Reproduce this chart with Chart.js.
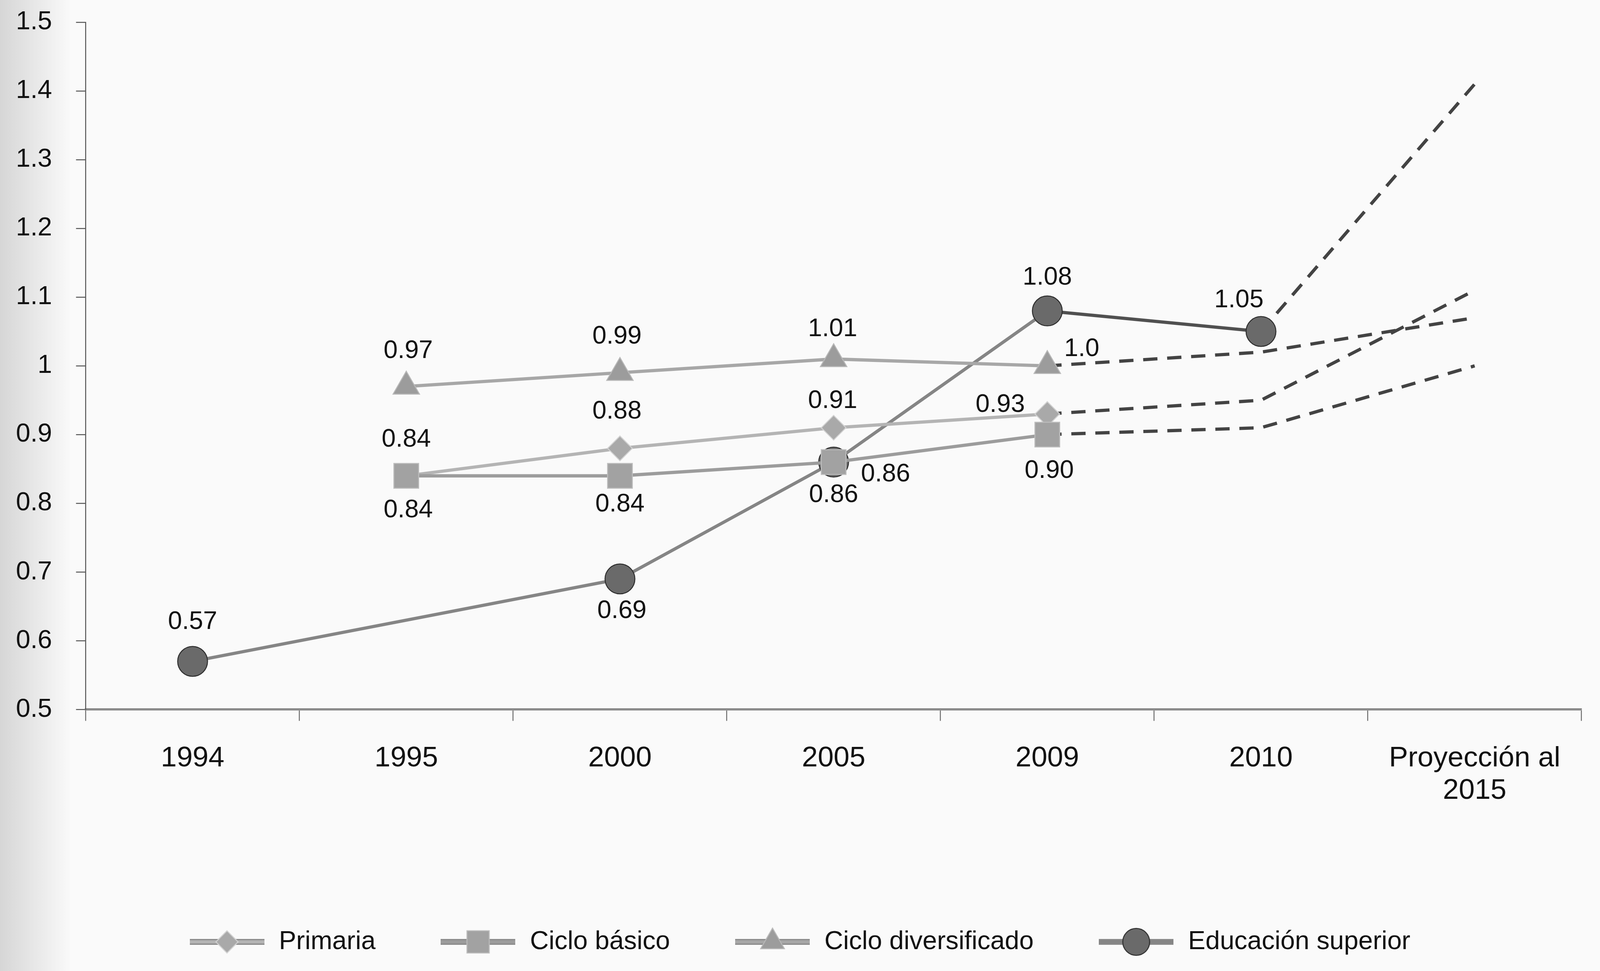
<!DOCTYPE html>
<html>
<head>
<meta charset="utf-8">
<script src="https://cdn.jsdelivr.net/npm/chart.js@4.4.1/dist/chart.umd.min.js"></script>
<style>
html,body{margin:0;padding:0;background:#fafafa;overflow:hidden;}
#wrap{width:100vw;height:100vh;position:relative;}
canvas{display:block;}
</style>
</head>
<body>
<div id="wrap"><canvas id="c"></canvas></div>
<script>
// ---------- data ----------
const categories = ['1994', '1995', '2000', '2005', '2009', '2010', ['Proyección al', '2015']];
const seriesNames = ['Primaria', 'Ciclo básico', 'Ciclo diversificado', 'Educación superior'];

const primaria           = [null, 0.84, 0.88, 0.91, 0.93, null, null];
const cicloBasico        = [null, 0.84, 0.84, 0.86, 0.90, null, null];
const cicloDiversificado = [null, 0.97, 0.99, 1.01, 1.00, null, null];
const educacionSuperior  = [0.57, null, 0.69, 0.86, 1.08, 1.05, null];

const primariaProyeccion      = [null, null, null, null, 0.93, 0.95, 1.11];
const basicoProyeccion        = [null, null, null, null, 0.90, 0.91, 1.00];
const diversificadoProyeccion = [null, null, null, null, 1.00, 1.02, 1.07];
const superiorProyeccion      = [null, null, null, null, null, 1.05, 1.41];

const primariaLabels      = [null, '0.84', '0.88', '0.91', '0.93', null, null];
const basicoLabels        = [null, '0.84', '0.84', '0.86', '0.90', null, null];
const diversificadoLabels = [null, '0.97', '0.99', '1.01', '1.0', null, null];
const superiorLabels      = ['0.57', null, '0.69', '0.86', '1.08', '1.05', null];

const yMin = 0.5, yMax = 1.5, yStep = 0.1;

// ---------- scale to window ----------
const wrap = document.getElementById('wrap');
const W = wrap.clientWidth || 4930;
const H = wrap.clientHeight || 2487;
const K = W / 4930;          // size scale (fonts, marks)
const px = v => v * K;

// ---------- styles ----------
const FONT = '"Liberation Sans", Arial, Helvetica, sans-serif';
const styles = [
  {line:'#b4b4b4', fill:'#a9a9a9', border:'#d2d2d2', shape:'rectRot', r:38},
  {line:'#9c9c9c', fill:'#a2a2a2', border:'#bdbdbd', shape:'rect', r:54},
  {line:'#a7a7a7', fill:'#9c9c9c', border:'#b8b8b8', shape:'triangle', r:47},
  {line:'#858585', fill:'#6a6a6a', border:'#2e2e2e', shape:'circle', r:46}
];
const dashColor = '#434343';

const fsY = px(80), fsX = px(88), fsLegend = px(80), fsValue = 78;
const legendPad = px(196);
const chartTop = 0.0229 * H;
const chartBottom = 0.7307 * H;
const padLeft = px(20), padRight = px(25);
const padBottom = Math.max(0, 0.030 * H - 10 - fsLegend / 2);
const legendHeight = fsLegend + legendPad + 10;
const xAxisHeight = (H - padBottom - legendHeight) - chartBottom;
const yAxisWidth = 0.0536 * W - padLeft;
const yTickLen = px(30), xTickLen = px(35);
const yLabelPad = 0.0536 * W - 0.0325 * W - yTickLen;
const xLabelPad = Math.max(0, 0.0495 * H - xTickLen - 0.54 * fsX);

function drawMarker(ctx, shape, x, y, r, fill, border, bw) {
  ctx.save();
  ctx.fillStyle = fill; ctx.strokeStyle = border; ctx.lineWidth = bw;
  ctx.beginPath();
  if (shape === 'circle') {
    ctx.arc(x, y, r, 0, Math.PI * 2);
  } else if (shape === 'rect') {
    const s = r * Math.SQRT1_2;
    ctx.rect(x - s, y - s, 2 * s, 2 * s);
  } else if (shape === 'rectRot') {
    ctx.moveTo(x, y - r); ctx.lineTo(x + r, y); ctx.lineTo(x, y + r); ctx.lineTo(x - r, y); ctx.closePath();
  } else if (shape === 'triangle') {
    ctx.moveTo(x, y - r);
    ctx.lineTo(x + r * Math.sin(Math.PI / 3), y + r / 2);
    ctx.lineTo(x - r * Math.sin(Math.PI / 3), y + r / 2);
    ctx.closePath();
  }
  ctx.fill(); ctx.stroke();
  ctx.restore();
}

function legendIcon(st) {
  const c = document.createElement('canvas');
  c.width = Math.round(px(230)); c.height = Math.round(px(110));
  const g = c.getContext('2d');
  g.strokeStyle = '#8a8a8a'; g.lineWidth = px(18);
  g.beginPath(); g.moveTo(0, c.height / 2); g.lineTo(c.width, c.height / 2); g.stroke();
  g.strokeStyle = st.line; g.lineWidth = px(10);
  g.beginPath(); g.moveTo(0, c.height / 2); g.lineTo(c.width, c.height / 2); g.stroke();
  drawMarker(g, st.shape, c.width / 2, c.height / 2, px(st.r * 0.9), st.fill, st.border, px(3));
  return c;
}
const legendIcons = styles.map(legendIcon);

// ---------- plugins ----------
const backgroundPlugin = {
  id: 'paper',
  beforeDraw(chart) {
    const ctx = chart.ctx, w = chart.width, h = chart.height;
    ctx.save();
    ctx.fillStyle = '#fafafa';
    ctx.fillRect(0, 0, w, h);
    const g = ctx.createLinearGradient(0, 0, px(220), 0);
    g.addColorStop(0, 'rgba(205,205,205,0.8)');
    g.addColorStop(1, 'rgba(205,205,205,0)');
    ctx.fillStyle = g;
    ctx.fillRect(0, 0, px(220), h);
    ctx.restore();
  }
};

const valueLabelPlugin = {
  id: 'valueLabels',
  afterDatasetsDraw(chart, args, opts) {
    const ctx = chart.ctx;
    ctx.save();
    ctx.font = px(opts.size) + 'px ' + FONT;
    ctx.fillStyle = opts.color;
    ctx.textAlign = 'center';
    ctx.textBaseline = 'middle';
    chart.data.datasets.forEach((ds, di) => {
      if (!ds.valueLabels) return;
      const meta = chart.getDatasetMeta(di);
      const offs = opts.offsets[di];
      ds.valueLabels.forEach((t, i) => {
        if (t == null) return;
        const pt = meta.data[i];
        const o = offs[i] || [0, 0];
        ctx.fillText(t, pt.x + px(o[0]), pt.y + px(o[1]));
      });
    });
    ctx.restore();
  }
};

// ---------- datasets ----------
function solid(idx, data, labels, order) {
  const st = styles[idx];
  return {
    label: seriesNames[idx], data: data, valueLabels: labels, order: order,
    borderColor: st.line, borderWidth: px(10), backgroundColor: st.fill,
    pointStyle: st.shape, pointRadius: px(st.r), pointBackgroundColor: st.fill,
    pointBorderColor: st.border, pointBorderWidth: px(3), pointHoverRadius: px(st.r),
    tension: 0, spanGaps: true, fill: false
  };
}
function dashed(name, data) {
  return {
    label: name, data: data, isProjection: true, order: 10,
    borderColor: dashColor, borderWidth: px(10), borderDash: [px(44), px(30)], borderCapStyle: 'butt',
    pointRadius: 0, pointHoverRadius: 0, tension: 0, spanGaps: false, fill: false
  };
}

const dsSuperior = solid(3, educacionSuperior, superiorLabels, 3);
dsSuperior.segment = { borderColor: c => (c.p0DataIndex === 4 ? '#505050' : undefined) };

const datasets = [
  solid(0, primaria, primariaLabels, 1),
  solid(1, cicloBasico, basicoLabels, 0),
  solid(2, cicloDiversificado, diversificadoLabels, 2),
  dsSuperior,
  dashed('Proyección primaria', primariaProyeccion),
  dashed('Proyección básico', basicoProyeccion),
  dashed('Proyección diversificado', diversificadoProyeccion),
  dashed('Proyección superior', superiorProyeccion)
];

new Chart(document.getElementById('c'), {
  type: 'line',
  data: { labels: categories, datasets: datasets },
  plugins: [backgroundPlugin, valueLabelPlugin],
  options: {
    responsive: true,
    maintainAspectRatio: false,
    animation: false,
    layout: { padding: { left: padLeft, right: padRight, top: chartTop, bottom: padBottom } },
    scales: {
      x: {
        type: 'category',
        offset: true,
        ticks: { font: { size: fsX, family: FONT, lineHeight: 1.14 }, color: '#111', padding: xLabelPad, maxRotation: 0, autoSkip: false },
        grid: { offset: true, drawOnChartArea: false, drawTicks: true, tickLength: xTickLen, color: '#6e6e6e', lineWidth: px(3) },
        border: { display: true, color: '#8a8a8a', width: px(7) },
        afterFit: s => { s.height = xAxisHeight; s.paddingLeft = 0; s.paddingRight = 0; }
      },
      y: {
        min: yMin, max: yMax,
        ticks: { stepSize: yStep, font: { size: fsY, family: FONT }, color: '#111', padding: yLabelPad,
                 callback: v => String(Number(Number(v).toFixed(1))) },
        grid: { drawOnChartArea: false, drawTicks: true, tickLength: yTickLen, color: '#555', lineWidth: px(3) },
        border: { display: true, color: '#555', width: px(3) },
        afterFit: s => { s.width = yAxisWidth; s.paddingTop = 0; s.paddingBottom = 0; }
      }
    },
    plugins: {
      tooltip: { enabled: false },
      legend: {
        position: 'bottom',
        labels: {
          usePointStyle: true,
          pointStyleWidth: px(240),
          padding: legendPad,
          color: '#111',
          font: { size: fsLegend, family: FONT },
          generateLabels: chart => chart.data.datasets.slice(0, 4).map((ds, i) => ({
            text: ds.label, pointStyle: legendIcons[i], datasetIndex: i, hidden: false,
            fontColor: '#111', lineWidth: 0, strokeStyle: 'rgba(0,0,0,0)', fillStyle: 'rgba(0,0,0,0)'
          }))
        }
      },
      valueLabels: {
        size: fsValue,
        color: '#111',
        offsets: {
          0: [null, [0, -112], [-9, -113], [-3, -82], [-145, -28]],
          1: [null, [6, 106], [0, 88], [160, 38], [6, 112]],
          2: [null, [6, -109], [-9, -112], [-3, -92], [106, -52]],
          3: [[0, -121], null, [6, 99], [0, 102], [0, -102], [-68, -96]]
        }
      }
    }
  }
});
</script>
</body>
</html>
